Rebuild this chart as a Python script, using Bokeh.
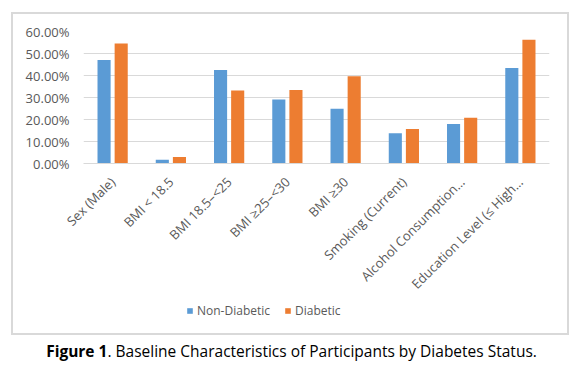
import math
from bokeh.plotting import figure
from bokeh.models import (ColumnDataSource, FactorRange, NumeralTickFormatter, Legend, LegendItem,
                          FixedTicker, Div, Range1d)
from bokeh.layouts import column
from bokeh.transform import dodge
from bokeh.embed import file_html
from bokeh.resources import INLINE

categories = ["Sex (Male)", "BMI < 18.5", "BMI 18.5\u2013<25", "BMI \u226525\u2013<30", "BMI \u226530",
              "Smoking (Current)", "Alcohol Consumption\u2026", "Education Level (\u2264 High\u2026"]
non_diabetic = [0.471, 0.017, 0.425, 0.291, 0.249, 0.138, 0.180, 0.434]
diabetic = [0.545, 0.029, 0.332, 0.334, 0.397, 0.157, 0.208, 0.563]
y_ticks = [0.0, 0.1, 0.2, 0.3, 0.4, 0.5, 0.6]
series_names = ["Non-Diabetic", "Diabetic"]
colors = ["#5B9BD5", "#ED7D31"]

src = ColumnDataSource(dict(cat=categories, nd=non_diabetic, d=diabetic))
xr = FactorRange(*categories, range_padding=0)

p = figure(x_range=xr, y_range=(0, 0.6),
           width=554, height=288, output_backend="svg", toolbar_location=None,
           min_border_left=70, min_border_right=18, min_border_top=17, min_border_bottom=139)
p.outline_line_color = None
p.background_fill_color = "white"
p.border_fill_color = "white"

p.vbar(x=dodge("cat", -0.147, range=xr), top="nd", width=0.225, source=src,
       color=colors[0], line_color=None)
p.vbar(x=dodge("cat", 0.147, range=xr), top="d", width=0.225, source=src,
       color=colors[1], line_color=None)

p.yaxis.ticker = FixedTicker(ticks=y_ticks)
p.yaxis.formatter = NumeralTickFormatter(format="0.00%")
p.yaxis.axis_line_color = None
p.yaxis.major_tick_line_color = None
p.yaxis.minor_tick_line_color = None
p.yaxis.major_label_text_font = "Open Sans"
p.yaxis.major_label_text_font_size = "13px"
p.yaxis.major_label_text_color = "#595959"
p.yaxis.major_label_standoff = 8

p.xaxis.axis_line_color = "#d9d9d9"
p.xaxis.axis_line_width = 1
p.xaxis.major_tick_line_color = None
p.xaxis.minor_tick_line_color = None
p.xaxis.major_label_orientation = math.pi / 4
p.xaxis.major_label_text_font = "Open Sans"
p.xaxis.major_label_text_font_size = "13px"
p.xaxis.major_label_text_color = "#595959"
p.xaxis.major_label_standoff = 10

p.xgrid.grid_line_color = None
p.ygrid.grid_line_color = "#d9d9d9"
p.ygrid.ticker = FixedTicker(ticks=y_ticks)

# legend strip inside the bordered chart box; its bars share the data but sit out of view
lf = figure(width=554, height=31, x_range=xr, y_range=Range1d(1, 2), output_backend="svg",
            toolbar_location=None, x_axis_type=None, y_axis_type=None,
            min_border_left=0, min_border_right=0, min_border_top=0, min_border_bottom=0)
lf.outline_line_color = None
lf.xgrid.grid_line_color = None
lf.ygrid.grid_line_color = None
d1 = lf.vbar(x=dodge("cat", -0.147, range=xr), top="nd", width=0.225, source=src,
             color=colors[0], line_color=None)
d2 = lf.vbar(x=dodge("cat", 0.147, range=xr), top="d", width=0.225, source=src,
             color=colors[1], line_color=None)
legend = Legend(items=[LegendItem(label=series_names[0], renderers=[d1], index=0),
                       LegendItem(label=series_names[1], renderers=[d2], index=0)],
                orientation="horizontal", location=(103, 14),
                label_text_font="Open Sans", label_text_font_size="12px", label_text_color="#595959",
                glyph_width=7, glyph_height=7, spacing=14, label_standoff=4,
                border_line_color=None, background_fill_alpha=0, margin=0, padding=0)
lf.add_layout(legend, "center")

box = column(p, lf, spacing=0, margin=(14, 16, 0, 13),
             styles={"outline": "2px solid #d9d9d9"})

caption = Div(text="<span style=\"font-family:'Open Sans'; font-size:15.5px; color:black\">"
                   "<b>Figure 1</b>. Baseline Characteristics of Participants by Diabetes Status.</span>",
              width=583, margin=(7, 0, 0, 0),
              styles={"text-align": "center", "width": "583px"})

layout = column(box, caption, spacing=0)
open("out.html", "w").write(file_html(layout, INLINE))
